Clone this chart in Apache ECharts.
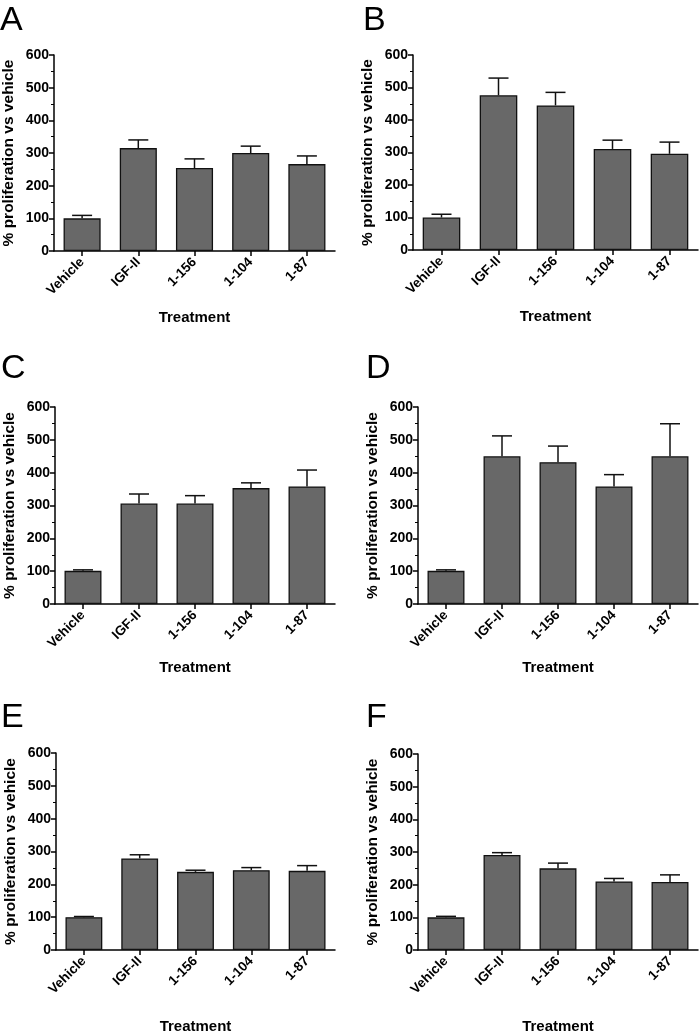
<!DOCTYPE html>
<html>
<head>
<meta charset="utf-8">
<script src="https://cdn.jsdelivr.net/npm/echarts@6/dist/echarts.min.js"></script>
<style>
html,body{margin:0;padding:0;background:#fff;}
#chart{width:700px;height:1035px;}
</style>
</head>
<body>
<div id="chart"></div>
<script>
const categories = ['Vehicle', 'IGF-II', '1-156', '1-104', '1-87'];
const panelLetters = ['A', 'B', 'C', 'D', 'E', 'F'];
const yTicks = [0, 100, 200, 300, 400, 500, 600];
const yTitle = '% proliferation vs vehicle';
const xTitle = 'Treatment';

const meanA = [100, 315, 254, 300, 266];
const upperA = [109, 340, 282, 321, 291];
const meanB = [100, 476, 445, 311, 296];
const upperB = [110, 529, 485, 338, 332];
const meanC = [101, 306, 306, 353, 358];
const upperC = [104, 335, 330, 369, 408];
const meanD = [101, 450, 432, 358, 450];
const upperD = [104, 512, 481, 394, 549];
const meanE = [100, 279, 238, 243, 241];
const upperE = [102, 290, 243, 251, 257];
const meanF = [100, 291, 250, 210, 208];
const upperF = [103, 298, 266, 219, 230];

const means = [meanA, meanB, meanC, meanD, meanE, meanF];
const uppers = [upperA, upperB, upperC, upperD, upperE, upperF];

// layout (pixels)
const grids = [
  {left: 53, top: 55, width: 282, height: 196},
  {left: 413, top: 55, width: 285, height: 195},
  {left: 55, top: 407, width: 280, height: 197},
  {left: 418, top: 407, width: 280, height: 197},
  {left: 56, top: 753, width: 279, height: 198},
  {left: 418, top: 754, width: 280, height: 197}
];
const xNameGaps = [59, 59, 56, 56, 69, 69];
const letterPos = [[0, 4], [363, 4], [1, 352], [366, 352], [1, 701], [366, 701]];

const FONT = '"Liberation Sans", Arial, sans-serif';

const option = {
  animation: false,
  backgroundColor: '#fff',
  grid: grids.map(g => Object.assign({containLabel: false}, g)),
  xAxis: grids.map((g, i) => ({
    type: 'category',
    gridIndex: i,
    data: categories,
    name: xTitle,
    nameLocation: 'middle',
    nameGap: xNameGaps[i],
    nameTextStyle: {fontFamily: FONT, fontWeight: 'bold', fontSize: 15, color: '#000'},
    axisLine: {lineStyle: {color: '#000', width: 1.5}},
    axisTick: {show: true, alignWithLabel: true, length: 5, lineStyle: {color: '#000', width: 1.5}},
    axisLabel: {rotate: 45, margin: 9, interval: 0, fontFamily: FONT, fontWeight: 'bold', fontSize: 13.5, color: '#000'},
    splitLine: {show: false}
  })),
  yAxis: grids.map((g, i) => ({
    type: 'value',
    gridIndex: i,
    min: yTicks[0],
    max: yTicks[yTicks.length - 1],
    interval: yTicks[1] - yTicks[0],
    name: yTitle,
    nameLocation: 'middle',
    nameRotate: 90,
    nameGap: 37,
    nameTextStyle: {fontFamily: FONT, fontWeight: 'bold', fontSize: 15.5, color: '#000'},
    axisLine: {show: true, lineStyle: {color: '#000', width: 1.5}},
    axisTick: {show: true, length: 5, lineStyle: {color: '#000', width: 1.5}},
    minorTick: {show: true, splitNumber: 2, length: 3, lineStyle: {color: '#000', width: 1}},
    axisLabel: {margin: 5, fontFamily: FONT, fontWeight: 'bold', fontSize: 14, color: '#000'},
    splitLine: {show: false}
  })),
  graphic: panelLetters.map((L, i) => ({
    type: 'text',
    left: letterPos[i][0],
    top: letterPos[i][1],
    style: {text: L, font: 'normal 34px ' + FONT, fill: '#000'}
  })),
  series: []
};

means.forEach((m, i) => {
  option.series.push({
    type: 'bar',
    xAxisIndex: i,
    yAxisIndex: i,
    data: m,
    barCategoryGap: '34%',
    itemStyle: {color: '#686868', borderColor: '#111', borderWidth: 1.3},
    z: 2
  });
  option.series.push({
    type: 'custom',
    xAxisIndex: i,
    yAxisIndex: i,
    data: m.map((v, k) => [k, v, uppers[i][k]]),
    encode: {x: 0, y: [1, 2]},
    z: 3,
    renderItem: function (params, api) {
      const p0 = api.coord([api.value(0), api.value(1)]);
      const p1 = api.coord([api.value(0), api.value(2)]);
      const half = 10;
      return {
        type: 'group',
        children: [
          {type: 'line', shape: {x1: p0[0], y1: p0[1], x2: p1[0], y2: p1[1]}, style: {stroke: '#111', lineWidth: 1.5}},
          {type: 'line', shape: {x1: p1[0] - half, y1: p1[1], x2: p1[0] + half, y2: p1[1]}, style: {stroke: '#111', lineWidth: 1.5}}
        ]
      };
    }
  });
});

const chart = echarts.init(document.getElementById('chart'), null, {renderer: 'canvas'});
chart.setOption(option);
</script>
</body>
</html>
